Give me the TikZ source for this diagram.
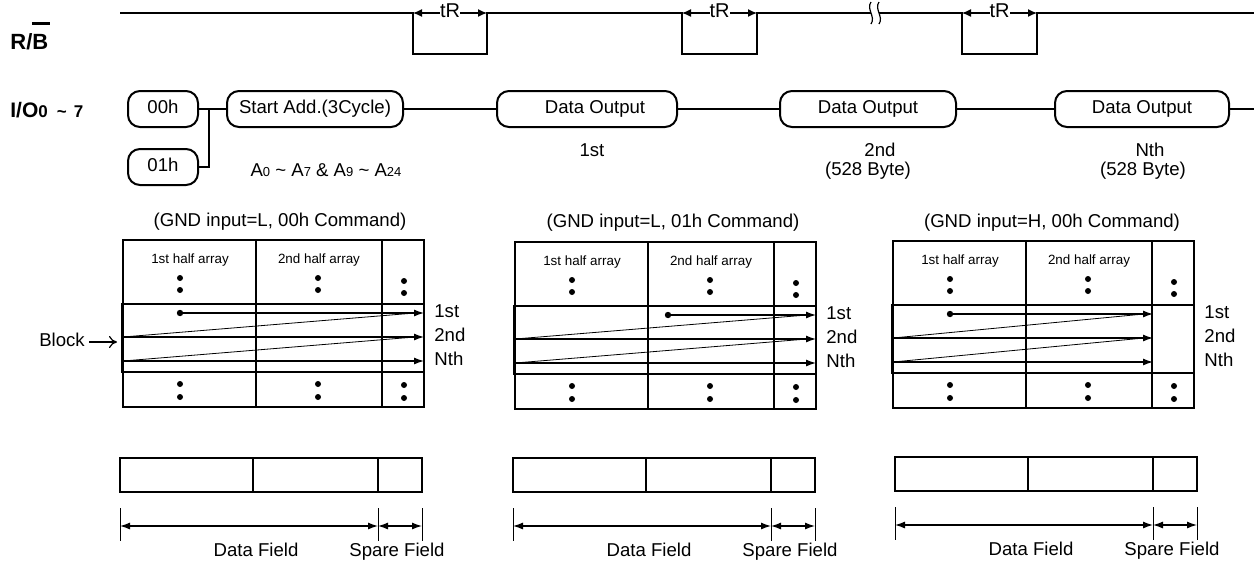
\documentclass[tikz,border=0pt]{standalone}
\usepackage{fontspec}
\setmainfont{Liberation Sans}
\usetikzlibrary{arrows.meta}
\newcommand\smd[1]{{\fontsize{6.5}{8}\selectfont #1}}
\newcommand\memarray[3]{%
  \draw[gridline] (0,0) rectangle (301,167);
  \draw[gridline] (133,0) -- (133,167) (259,0) -- (259,167);
  \draw[blockbox] (-1,64) rectangle (301,132);
  \node[small] (#3-h1) at (67,20) {1st half array};
  \node[small] (#3-h2) at (196,20) {2nd half array};
  \foreach \x in {57,195}{\fill (\x,38) circle[radius=1.5pt] (\x,50) circle[radius=1.5pt] (\x,144) circle[radius=1.5pt] (\x,157) circle[radius=1.5pt];}
  \fill (281,41) circle[radius=1.5pt] (281,53) circle[radius=1.5pt] (281,145) circle[radius=1.5pt] (281,158) circle[radius=1.5pt];
  \fill (#1,73) circle[radius=1.6pt];
  \draw[diag] (0,97) -- (#2-9,73);
  \draw[diag] (0,121) -- (#2-9,97);
  \draw[rowarrow] (#1,73) -- (#2,73);
  \draw[rowarrow] (0,97) -- (#2,97);
  \draw[rowarrow] (0,121) -- (#2,121);
  \node[txt,anchor=west] (#3-r1) at (311,73) {1st};
  \node[txt,anchor=west] (#3-r2) at (311,97) {2nd};
  \node[txt,anchor=west] (#3-r3) at (311,121) {Nth};
}
\newcommand\fieldbar[1]{%
  \draw[barline] (0,0) rectangle (302,34);
  \draw[barline] (133,0) -- (133,34) (258,0) -- (258,34);
  \coordinate (#1-a) at (0,68);
  \coordinate (#1-b) at (258,68);
  \coordinate (#1-c) at (302,68);
  \draw[thin] (0,50) -- (0,83) (258,50) -- (258,83) (302,50) -- (302,83);
  \draw[dimarrow] (#1-a) -- (#1-b);
  \draw[dimarrow] (#1-b) -- (#1-c);
  \node[txt] (#1-df) at (136,94) {Data Field};
  \node[txt] (#1-sf) at (277,94) {Spare Field};
}
\begin{document}
\begin{tikzpicture}[x=0.5pt,y=-0.5pt,
  txt/.style={font=\fontsize{9.3}{11}\selectfont, inner sep=0pt, text height=6.7pt, text depth=1.9pt},
  small/.style={font=\fontsize{6.7}{8}\selectfont, inner sep=0pt, text height=4.8pt, text depth=1.4pt},
  iobox/.style={draw, line width=1pt, rounded corners=6pt, minimum height=18pt, inner sep=0pt, text height=6.7pt, text depth=1.9pt, font=\fontsize{9.3}{11}\selectfont},
  sig/.style={line width=1.2pt},
  wire/.style={line width=1pt},
  gridline/.style={line width=1pt},
  barline/.style={line width=1.2pt},
  blockbox/.style={line width=1.3pt},
  rowarrow/.style={line width=0.6pt, -{Latex[length=5pt,width=3.5pt]}},
  diag/.style={line width=0.4pt},
  dimarrow/.style={line width=0.6pt, {Latex[length=5pt,width=3.5pt]}-{Latex[length=5pt,width=3.5pt]}},
  trarrow/.style={line width=0.6pt, {Latex[length=4.5pt,width=4pt]}-{Latex[length=4.5pt,width=4pt]}}
]
\useasboundingbox (0,0) rectangle (1254,563);

% ---------- R/B ----------
\node[anchor=west, inner sep=0pt, font=\fontsize{11}{13}\selectfont\bfseries] (rb) at (10,36)
  {R/\rlap{\hspace{-0.3pt}\raisebox{12.3pt}{\rule{9pt}{1.5pt}}}B};
\coordinate (s0) at (120,13);
\coordinate (p1a) at (413,13); \coordinate (p1b) at (487,13);
\coordinate (p2a) at (682,13); \coordinate (p2b) at (757,13);
\coordinate (p3a) at (962,13); \coordinate (p3b) at (1037,13);
\coordinate (bk1) at (871,13); \coordinate (bk2) at (879,13);
\coordinate (s9) at (1254,13);
\draw[sig] (s0) -- (p1a) -- ++(0,41) -| (p1b) -- (p2a) -- ++(0,41) -| (p2b) -- (bk1);
\draw[sig] (bk2) -- (p3a) -- ++(0,41) -| (p3b) -- (s9);
\draw[line width=0.6pt] (871,2) .. controls (866,9) and (876,17) .. (871,24);
\draw[line width=0.6pt] (879,2) .. controls (874,9) and (884,17) .. (879,24);
\draw[trarrow] (p1a) -- (p1b) node[midway, fill=white, inner sep=1.5pt, txt, font=\fontsize{10}{12}\selectfont] (tr1) {tR};
\draw[trarrow] (p2a) -- (p2b) node[midway, fill=white, inner sep=1.5pt, txt, font=\fontsize{10}{12}\selectfont] (tr2) {tR};
\draw[trarrow] (p3a) -- (p3b) node[midway, fill=white, inner sep=1.5pt, txt, font=\fontsize{10}{12}\selectfont] (tr3) {tR};

% ---------- I/O ----------
\node[anchor=west, inner sep=0pt, font=\fontsize{10.5}{13}\selectfont\bfseries] (io) at (10,110)
  {I/O{\fontsize{8.5}{10}\selectfont 0\hspace{4.5pt}\textasciitilde\hspace{3.5pt}7}};
\node[iobox, minimum width=35pt] (c00) at (163,109) {00h};
\node[iobox, minimum width=35pt] (c01) at (163,167) {01h};
\node[iobox, minimum width=88pt] (sa) at (315,109) {Start Add.(3Cycle)};
\node[iobox, minimum width=90pt] (d1) at (587,109) {\hspace{8pt}Data Output};
\node[iobox, minimum width=88pt] (d2) at (868,109) {Data Output};
\node[iobox, minimum width=87pt] (d3) at (1142,109) {Data Output};
\coordinate (j) at (209,109);
\coordinate (ioend) at (1254,109);
\draw[wire] (c00.east) -- (sa.west);
\draw[wire] (c01.east) -| (j);
\draw[wire] (sa) -- (d1);
\draw[wire] (d1) -- (d2);
\draw[wire] (d2) -- (d3);
\draw[wire] (d3) -- (ioend);
\node[txt] (addr) at (326,172) {A\smd{0} \textasciitilde{} A\smd{7} \& A\smd{9} \textasciitilde{} A\smd{24}};
\node[txt] (l1) at (592,152) {1st};
\node[txt] (l2a) at (880,152) {2nd};
\node[txt] (l2b) at (868,171) {(528 Byte)};
\node[txt] (l3a) at (1150,152) {Nth};
\node[txt] (l3b) at (1143,171) {(528 Byte)};

% ---------- arrays ----------
\node[txt] (t1) at (280,222) {(GND input=L, 00h Command)};
\node[txt] (t2) at (673,223) {(GND input=L, 01h Command)};
\node[txt] (t3) at (1052,223) {(GND input=H, 00h Command)};
\begin{scope}[shift={(123,240)}]
  \memarray{57}{301}{ga}
\end{scope}
\begin{scope}[shift={(515,242)}]
  \memarray{153}{301}{gb}
\end{scope}
\begin{scope}[shift={(893,241)}]
  \memarray{57}{260}{gc}
\end{scope}
\node[txt] (blk) at (62,342) {Block};
\coordinate (blkend) at (117,342);
\draw[line width=0.6pt, -{To[length=4pt,width=6pt]}] (blk.east) ++(4,0) -- (blkend);

% ---------- field bars ----------
\begin{scope}[shift={(120,458)}]
  \fieldbar{fa}
\end{scope}
\begin{scope}[shift={(513,458)}]
  \fieldbar{fb}
\end{scope}
\begin{scope}[shift={(895,457)}]
  \fieldbar{fc}
\end{scope}
\end{tikzpicture}
\end{document}
